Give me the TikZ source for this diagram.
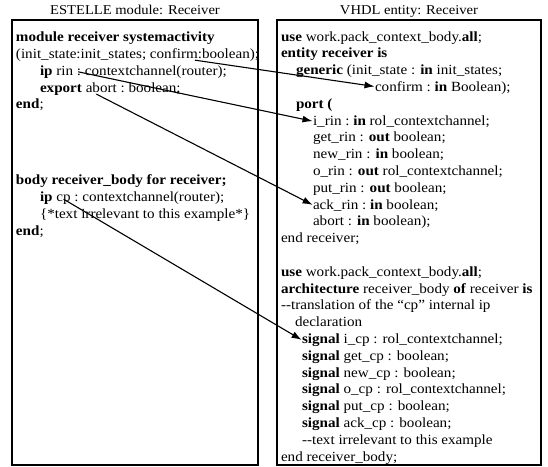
\documentclass[tikz,border=0pt]{standalone}
\usepackage{fontspec}
\setmainfont{Liberation Serif}[FakeStretch=1.08]
\usetikzlibrary{arrows.meta,calc}
\newcommand\codesize{\fontsize{14}{16}\selectfont}
\newcommand\headsize{\fontsize{13.5}{16}\selectfont}

\begin{document}
\begin{tikzpicture}[x=1pt,y=-1pt,
  txt/.style={anchor=base west,inner sep=0pt,outer sep=0pt,font=\codesize},
  ttl/.style={anchor=base,inner sep=0pt,font=\headsize},
  frame/.style={draw,line width=1.2pt,anchor=north west,inner sep=0pt,outer sep=0pt,minimum height=445pt},
  link/.style={line width=1.1pt,-{Latex[length=10pt,width=7pt]},shorten >=0.5pt},
]
\useasboundingbox (0,0) rectangle (548,466);

% the two frames and their headings
\node[frame,minimum width=246pt] (estelle) at (12,20) {};
\node[frame,minimum width=264pt] (vhdl) at (277,20) {};
\node[ttl] (t1) at (135,14) {ESTELLE module: Receiver};
\node[ttl] (t2) at (409,14) {VHDL entity: Receiver};

% ESTELLE module header
\node[txt] (m1) at (16,41) {\textbf{module receiver systemactivity}};
\node[txt] (m2a) at (16,58) {(init\_state:init\_states;};
\node[txt] (cnfL) at (m2a.base east) {\ confirm};
\node[txt] (m2c) at (cnfL.base east) {:boolean);};
\node[txt] (ipk) at (40,75) {\textbf{ip}\ rin};
\node[txt] (colL) at (ipk.base east) {\ :};
\node[txt] (m3c) at (colL.base east) {\ contextchannel(router);};
\node[txt] (exk) at (40,92) {\textbf{export}};
\node[txt] (abortL) at (exk.base east) {\ abort};
\node[txt] (m4c) at (abortL.base east) {\ :\ boolean;};
\node[txt] (m5) at (16,108) {\textbf{end};};

% ESTELLE module body
\node[txt] (b1) at (16,184) {\textbf{body receiver\_body for receiver;}};
\node[txt] (b2a) at (40,201) {\textbf{ip}};
\node[txt] (cpL) at (b2a.base east) {\ cp};
\node[txt] (b2c) at (cpL.base east) {\ :\ contextchannel(router);};
\node[txt] (b3) at (40,218) {\{*text irrelevant to this example*\}};
\node[txt] (b4) at (16,235) {\textbf{end};};

% VHDL entity
\node[txt] (v0) at (281,41) {\textbf{use} work.pack\_context\_body.\textbf{all};};
\node[txt] (v1) at (281,57.8) {\textbf{entity receiver is}};
\node[txt] (v2) at (296,74.6) {\textbf{generic} (init\_state : \textbf{in} init\_states;};
\node[txt] (cnfR) at (375,91.4) {confirm};
\node[txt] (v3) at (cnfR.base east) {\ :\ \textbf{in} Boolean);};
\node[txt] (v4) at (296,108.2) {\textbf{port (}};
\node[txt] (irin) at (313,125) {i\_rin};
\node[txt] (v5) at (irin.base east) {\ :\ \textbf{in} rol\_contextchannel;};
\node[txt] (v6) at (313,141.8) {get\_rin : \textbf{out} boolean;};
\node[txt] (v7) at (313,158.6) {new\_rin : \textbf{in} boolean;};
\node[txt] (v8) at (313,175.4) {o\_rin : \textbf{out} rol\_contextchannel;};
\node[txt] (v9) at (313,192.2) {put\_rin : \textbf{out} boolean;};
\node[txt] (ackR) at (313,209) {ack\_rin};
\node[txt] (v10) at (ackR.base east) {\ :\ \textbf{in} boolean;};
\node[txt] (v11) at (313,225.8) {abort : \textbf{in} boolean);};
\node[txt] (v12) at (281,242.6) {end receiver;};

% VHDL architecture
\node[txt] (a0) at (281,276.2) {\textbf{use} work.pack\_context\_body.\textbf{all};};
\node[txt] (a1) at (281,293) {\textbf{architecture} receiver\_body \textbf{of} receiver \textbf{is}};
\node[txt] (a2) at (281,309.8) {{-}{-}translation of the “cp” internal ip};
\node[txt] (a3) at (295,326.6) {declaration};
\node[txt] (sigI) at (302,343.4) {\textbf{signal}};
\node[txt] (a4) at (sigI.base east) {\ i\_cp : rol\_contextchannel;};
\node[txt] (a5) at (302,360.2) {\textbf{signal} get\_cp : boolean;};
\node[txt] (a6) at (302,377) {\textbf{signal} new\_cp : boolean;};
\node[txt] (a7) at (302,393.8) {\textbf{signal} o\_cp : rol\_contextchannel;};
\node[txt] (a8) at (302,410.6) {\textbf{signal} put\_cp : boolean;};
\node[txt] (a9) at (302,427.4) {\textbf{signal} ack\_cp : boolean;};
\node[txt] (a10) at (302,444.2) {{-}{-}text irrelevant to this example};
\node[txt] (a11) at (281,461) {end receiver\_body;};

% correspondences between the two descriptions
\draw[link] ([xshift=-3pt,yshift=-2pt]cnfL.south east) -- (cnfR.west);
\draw[link] ([xshift=1pt]colL.center) -- (irin.west);
\draw[link] ([xshift=-3pt,yshift=-2pt]abortL.south) -- (ackR.west);
\draw[link] ([xshift=2pt]cpL.center) -- (sigI.west);
\end{tikzpicture}
\end{document}
